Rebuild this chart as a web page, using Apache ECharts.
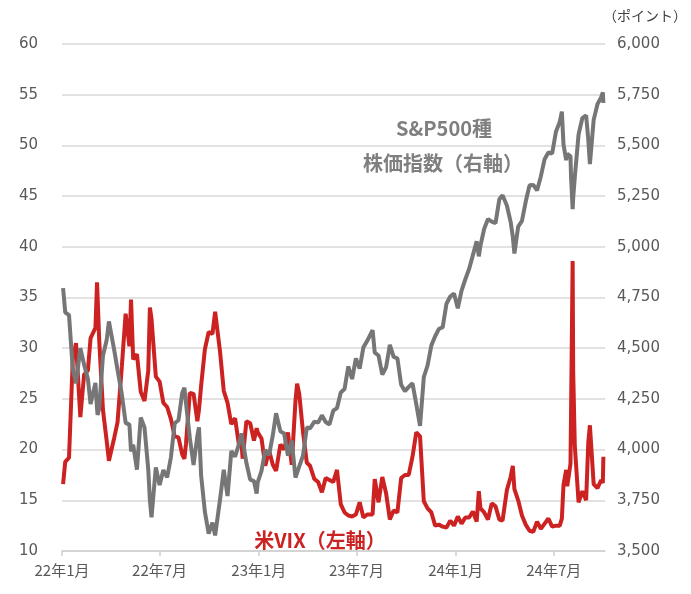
<!DOCTYPE html>
<html>
<head>
<meta charset="utf-8">
<script src="https://cdn.jsdelivr.net/npm/echarts@6/dist/echarts.min.js"></script>
<style>
  html, body { margin: 0; padding: 0; background: #fff; }
  #chart { width: 691px; height: 594px; }
</style>
</head>
<body>
<div id="chart"></div>
<script>
// dates (trading days, roughly weekly plus a few spike days)
const dates = [
  '2022-01-03', '2022-01-07', '2022-01-14', '2022-01-21', '2022-01-27', '2022-02-04', '2022-02-11', '2022-02-18',
  '2022-02-23', '2022-03-04', '2022-03-07', '2022-03-08', '2022-03-11', '2022-03-18', '2022-03-25', '2022-03-29',
  '2022-04-08', '2022-04-14', '2022-04-22', '2022-04-29', '2022-05-06', '2022-05-09', '2022-05-13', '2022-05-20',
  '2022-05-27', '2022-06-03', '2022-06-10', '2022-06-13', '2022-06-16', '2022-06-24', '2022-07-01', '2022-07-08',
  '2022-07-15', '2022-07-22', '2022-07-29', '2022-08-05', '2022-08-12', '2022-08-16', '2022-08-19', '2022-08-26',
  '2022-09-02', '2022-09-09', '2022-09-12', '2022-09-16', '2022-09-23', '2022-09-30', '2022-10-07', '2022-10-12',
  '2022-10-21', '2022-10-28', '2022-11-04', '2022-11-11', '2022-11-18', '2022-11-25', '2022-11-30', '2022-12-02',
  '2022-12-09', '2022-12-16', '2022-12-23', '2022-12-28', '2022-12-30',
  '2023-01-06', '2023-01-13', '2023-01-20', '2023-01-27', '2023-02-02', '2023-02-10', '2023-02-17', '2023-02-24',
  '2023-03-03', '2023-03-10', '2023-03-13', '2023-03-17', '2023-03-24', '2023-03-31', '2023-04-06', '2023-04-14',
  '2023-04-21', '2023-04-28', '2023-05-05', '2023-05-12', '2023-05-19', '2023-05-26', '2023-06-02', '2023-06-09',
  '2023-06-16', '2023-06-23', '2023-06-30', '2023-07-07', '2023-07-14', '2023-07-21', '2023-07-31', '2023-08-04',
  '2023-08-11', '2023-08-18', '2023-08-25', '2023-09-01', '2023-09-08', '2023-09-15', '2023-09-22', '2023-09-29',
  '2023-10-06', '2023-10-13', '2023-10-20', '2023-10-27', '2023-11-03', '2023-11-10', '2023-11-17', '2023-11-24',
  '2023-12-01', '2023-12-08', '2023-12-15', '2023-12-22', '2023-12-29',
  '2024-01-05', '2024-01-12', '2024-01-19', '2024-01-26', '2024-02-02', '2024-02-09', '2024-02-13', '2024-02-16',
  '2024-02-23', '2024-03-01', '2024-03-08', '2024-03-15', '2024-03-22', '2024-03-28', '2024-04-05', '2024-04-12',
  '2024-04-16', '2024-04-19', '2024-04-26', '2024-05-03', '2024-05-10', '2024-05-17', '2024-05-24', '2024-05-31',
  '2024-06-07', '2024-06-14', '2024-06-21', '2024-06-28', '2024-07-05', '2024-07-12', '2024-07-16', '2024-07-19',
  '2024-07-24', '2024-07-26', '2024-08-01', '2024-08-02', '2024-08-05', '2024-08-06', '2024-08-09', '2024-08-16',
  '2024-08-23', '2024-08-30', '2024-09-03', '2024-09-06', '2024-09-13', '2024-09-20', '2024-09-27', '2024-09-30',
  '2024-10-01'
]

// 米VIX (left axis)
const vix = [
  16.6, 18.8, 19.2, 28.9, 30.5, 23.2, 27.4, 27.8,
  31.0, 32.0, 36.5, 35.1, 30.8, 23.9, 20.8, 18.9,
  21.2, 22.7, 28.2, 33.4, 30.2, 34.8, 28.9, 29.4,
  25.7, 24.8, 27.8, 34.0, 32.9, 27.2, 26.7, 24.6,
  24.2, 23.0, 21.3, 21.2, 19.5, 19.1, 20.6, 25.6,
  25.5, 22.8, 23.9, 26.3, 29.9, 31.6, 31.4, 33.6,
  29.7, 25.8, 24.6, 22.5, 23.1, 20.5, 20.6, 19.1,
  22.8, 22.6, 20.9, 22.1, 21.7,
  21.1, 18.4, 19.9, 18.5, 17.9, 20.5, 20.0, 21.7,
  18.5, 24.8, 26.5, 25.5, 21.7, 18.7, 18.4, 17.1,
  16.8, 15.8, 17.2, 17.0, 16.8, 18.0, 14.6, 13.8,
  13.5, 13.4, 13.6, 14.8, 13.3, 13.6, 13.6, 17.1,
  14.8, 17.3, 15.7, 13.1, 14.0, 13.8, 17.2, 17.5,
  17.5, 19.3, 21.7, 21.3, 14.9, 14.2, 13.8, 12.5,
  12.6, 12.4, 12.3, 13.0, 12.5,
  13.4, 12.7, 13.3, 13.3, 13.9, 12.9, 15.9, 14.2,
  13.8, 13.1, 14.7, 14.4, 13.1, 13.0, 16.0, 17.3,
  18.4, 16.1, 15.0, 13.5, 12.6, 12.0, 11.9, 12.9,
  12.2, 12.7, 13.2, 12.4, 12.5, 12.5, 13.2, 16.5,
  18.0, 16.4, 18.6, 23.4, 38.6, 27.7, 20.4, 14.8,
  15.9, 15.0, 20.7, 22.4, 16.6, 16.2, 17.0, 16.7,
  19.3
]

// S&P500種株価指数 (right axis)
const spx = [
  4796, 4677, 4663, 4398, 4327, 4500, 4419, 4349,
  4225, 4329, 4201, 4171, 4204, 4463, 4543, 4632,
  4488, 4393, 4272, 4132, 4123, 3991, 4024, 3901,
  4158, 4109, 3901, 3750, 3666, 3912, 3825, 3899,
  3863, 3962, 4130, 4145, 4280, 4305, 4228, 4058,
  3924, 4067, 4110, 3873, 3693, 3586, 3640, 3577,
  3752, 3901, 3771, 3993, 3965, 4026, 4080, 4072,
  3934, 3852, 3845, 3783, 3840,
  3895, 3999, 3973, 4071, 4179, 4090, 4079, 3970,
  4045, 3862, 3855, 3917, 3971, 4109, 4105, 4138,
  4133, 4169, 4136, 4124, 4192, 4205, 4282, 4299,
  4410, 4348, 4450, 4399, 4505, 4536, 4589, 4478,
  4464, 4370, 4406, 4516, 4457, 4450, 4320, 4288,
  4309, 4327, 4224, 4117, 4358, 4415, 4514, 4559,
  4595, 4604, 4719, 4755, 4770,
  4697, 4784, 4840, 4891, 4959, 5027, 4953, 5006,
  5089, 5137, 5124, 5117, 5234, 5254, 5204, 5123,
  5051, 4967, 5100, 5128, 5223, 5303, 5305, 5278,
  5347, 5432, 5465, 5460, 5567, 5615, 5667, 5505,
  5427, 5459, 5446, 5346, 5186, 5240, 5344, 5554,
  5635, 5648, 5529, 5408, 5626, 5703, 5738, 5762,
  5709
]

// x-axis label months
const tickMonths = ['2022-01-01', '2022-07-01', '2023-01-01', '2023-07-01', '2024-01-01', '2024-07-01']

const toTime = s => {
  const p = s.split('-').map(Number)
  return new Date(p[0], p[1] - 1, p[2]).getTime()
}

const tickTimes = tickMonths.map(toTime)
const vixData = dates.map((d, i) => [toTime(d), vix[i]])
const spxData = dates.map((d, i) => [toTime(d), spx[i]])

const numFont = 'DejaVu Sans'
const jpFont = 'Noto Sans CJK JP'

const myChart = echarts.init(document.getElementById('chart'))

const option = {
  animation: false,
  grid: {
    left: 62,
    right: 86,
    top: 44,
    bottom: 43
  },
  xAxis: {
    type: 'value',
    min: toTime('2022-01-01'),
    max: toTime('2024-10-04'),
    axisLine: { lineStyle: { color: '#d0d0d0', width: 1.5 } },
    axisTick: {
      show: true,
      customValues: tickTimes,
      length: 5,
      lineStyle: { color: '#d0d0d0', width: 1.5 }
    },
    axisLabel: {
      customValues: tickTimes,
      color: '#595959',
      fontFamily: jpFont,
      fontSize: 15,
      margin: 12,
      formatter: (val) => {
        const d = new Date(val)
        return (d.getFullYear() % 100) + '年' + (d.getMonth() + 1) + '月'
      }
    },
    splitLine: { show: false }
  },
  yAxis: [
    {
      type: 'value',
      min: 10,
      max: 60,
      interval: 5,
      axisLine: { show: false },
      axisTick: { show: false },
      axisLabel: {
        color: '#595959',
        fontFamily: numFont,
        fontSize: 15,
        margin: 24
      },
      splitLine: { lineStyle: { color: '#d9d9d9', width: 1.5 } }
    },
    {
      type: 'value',
      min: 3500,
      max: 6000,
      interval: 250,
      axisLine: { show: false },
      axisTick: { show: false },
      axisLabel: {
        color: '#595959',
        fontFamily: numFont,
        fontSize: 15,
        margin: 12,
        formatter: v => v.toLocaleString('en-US')
      },
      splitLine: { show: false }
    }
  ],
  series: [
    {
      name: '米VIX',
      type: 'line',
      yAxisIndex: 0,
      data: vixData,
      showSymbol: false,
      lineStyle: { color: '#cc2222', width: 4 },
      itemStyle: { color: '#cc2222' },
      z: 2
    },
    {
      name: 'S&P500種株価指数',
      type: 'line',
      yAxisIndex: 1,
      data: spxData,
      showSymbol: false,
      lineStyle: { color: '#767676', width: 4 },
      itemStyle: { color: '#767676' },
      z: 3
    }
  ],
  graphic: [
    {
      type: 'text',
      x: 645,
      y: 16,
      style: {
        text: '（ポイント）',
        fill: '#404040',
        fontFamily: jpFont,
        fontSize: 14,
        align: 'center',
        verticalAlign: 'middle'
      }
    },
    {
      type: 'text',
      x: 444,
      y: 128,
      style: {
        text: 'S&P500種',
        fill: '#7f7f7f',
        fontFamily: jpFont,
        fontWeight: 'bold',
        fontSize: 20,
        align: 'center',
        verticalAlign: 'middle'
      }
    },
    {
      type: 'text',
      x: 443,
      y: 163,
      style: {
        text: '株価指数（右軸）',
        fill: '#7f7f7f',
        fontFamily: jpFont,
        fontWeight: 'bold',
        fontSize: 20,
        align: 'center',
        verticalAlign: 'middle'
      }
    },
    {
      type: 'text',
      x: 320,
      y: 540,
      style: {
        text: '米VIX（左軸）',
        fill: '#cc2222',
        fontFamily: jpFont,
        fontWeight: 'bold',
        fontSize: 20,
        align: 'center',
        verticalAlign: 'middle'
      }
    }
  ]
}

myChart.setOption(option)

window.addEventListener('resize', () => {
  myChart.resize()
})
</script>
</body>
</html>
